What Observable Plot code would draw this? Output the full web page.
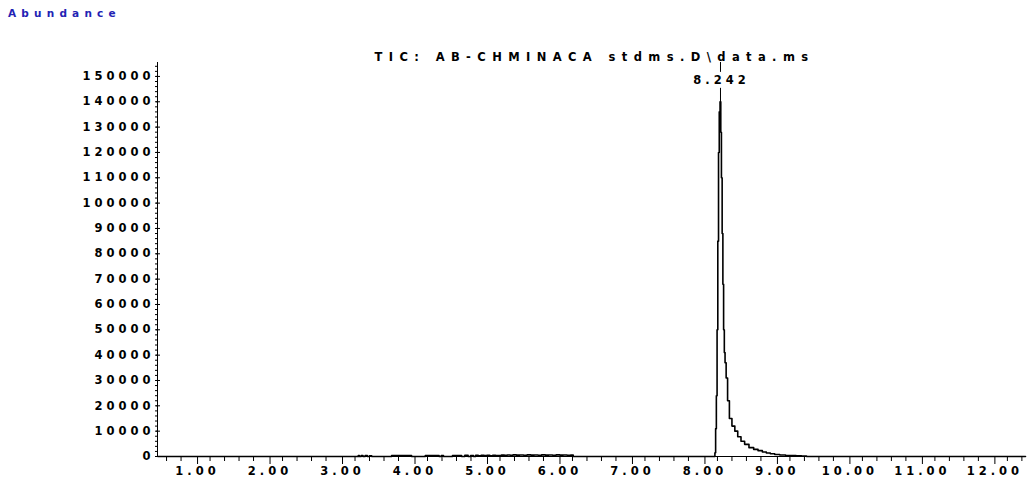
<!DOCTYPE html>
<html>
<head>
<meta charset="utf-8">
<script src="https://cdn.jsdelivr.net/npm/d3@7"></script>
<script src="https://cdn.jsdelivr.net/npm/@observablehq/plot@0.6"></script>
<style>
  body { margin: 0; background: #fff; }
  #wrap { position: relative; width: 1029px; height: 485px; overflow: hidden; }
  #wrap svg { position: absolute; left: 0; top: 0; }
  #ylab { position: absolute; left: 8px; top: 7px; font: bold 10.5px "DejaVu Sans"; letter-spacing: 5.2px; color: #2323b4; z-index: 2; }
</style>
</head>
<body>
<div id="wrap"><div id="ylab"></div></div>
<script>
const chartTitle = "TIC: AB-CHMINACA stdms.D\\data.ms";
const yAxisTitle = "Abundance";
const peakTime = 8.242;
const peakLabel = "8.242";

// retention time (min)
const times = [
  0.48, 3.24, 3.25, 3.27, 3.30, 3.32, 3.36, 3.38, 3.42, 3.44,
  3.97, 3.99, 4.35, 4.37, 4.41, 4.43, 4.66, 4.68, 4.75, 4.77,
  4.82, 4.85, 4.88, 4.92, 4.96, 5.00, 5.04, 5.08, 5.12, 5.16,
  5.20, 5.24, 5.28, 5.32, 5.36, 5.40, 5.45, 5.50, 5.55, 5.60,
  5.65, 5.70, 5.75, 5.80, 5.85, 5.90, 5.95, 6.00, 6.05, 6.10,
  6.15, 6.20, 6.22,
  8.16, 8.17, 8.18, 8.19, 8.20, 8.21, 8.22, 8.23, 8.242, 8.25,
  8.26, 8.27, 8.28, 8.29, 8.30, 8.31, 8.33, 8.35, 8.38, 8.42,
  8.46, 8.50, 8.55, 8.60, 8.67, 8.73, 8.79, 8.85, 8.90, 8.96,
  9.02, 9.10, 9.18, 9.25, 9.32, 9.40, 9.46, 12.45
];
// total ion abundance
const abundance = [
  0, 0, 400, 0, 350, 0, 400, 0, 300, 0,
  350, 0, 400, 0, 350, 0, 400, 0, 450, 0,
  400, 0, 450, 300, 500, 350, 450, 300, 500, 400,
  350, 550, 450, 600, 500, 650, 550, 600, 500, 650,
  550, 600, 500, 650, 550, 600, 500, 650, 550, 600,
  500, 550, 0,
  0, 1500, 11000, 24000, 50000, 85000, 120000, 136000, 140000, 128000,
  110000, 88000, 68000, 50000, 41000, 37000, 31000, 22000, 15000, 12000,
  10000, 7800, 6000, 4800, 3500, 2800, 2300, 1800, 1400, 1100,
  800, 600, 400, 350, 250, 200, 0, 0
];

const xMajorTicks = [1, 2, 3, 4, 5, 6, 7, 8, 9, 10, 11, 12];
const xMinorTicks = [0.6, 0.8, 1.2, 1.4, 1.6, 1.8, 2.2, 2.4, 2.6, 2.8, 3.2, 3.4, 3.6, 3.8,
  4.2, 4.4, 4.6, 4.8, 5.2, 5.4, 5.6, 5.8, 6.2, 6.4, 6.6, 6.8, 7.2, 7.4, 7.6, 7.8,
  8.2, 8.4, 8.6, 8.8, 9.2, 9.4, 9.6, 9.8, 10.2, 10.4, 10.6, 10.8, 11.2, 11.4, 11.6, 11.8,
  12.2, 12.4];
const yMajorTicks = [0, 10000, 20000, 30000, 40000, 50000, 60000, 70000, 80000,
  90000, 100000, 110000, 120000, 130000, 140000, 150000];
const yMinorTicks = d3.range(0, 155001, 2000);

const xDomain = [0.475, 12.45];
const yDomain = [0, 155500];
// peak marker segments (above the apex, broken around the label)
const markerLow = [140000, 145300];
const markerHigh = [151600, 155500];

const data = times.map((t, i) => ({t, a: abundance[i]}));

document.getElementById("ylab").textContent = yAxisTitle;

const chart = Plot.plot({
  width: 1029,
  height: 485,
  marginLeft: 157,
  marginRight: 4,
  marginTop: 62,
  marginBottom: 29,
  style: {fontFamily: "DejaVu Sans", fontSize: "11.5px", fontWeight: "bold", letterSpacing: "4px", color: "#000", background: "transparent", overflow: "visible"},
  x: {domain: xDomain},
  y: {domain: yDomain},
  marks: [
    Plot.axisX({ticks: xMinorTicks, tickSize: 5, tickFormat: () => "", stroke: "#000", label: null}),
    Plot.axisX({ticks: xMajorTicks, tickSize: 8, tickPadding: 2, dx: 2, tickFormat: d => d.toFixed(2), stroke: "#000", fill: "#000", label: null}),
    Plot.axisY({ticks: yMinorTicks, tickSize: 2, tickFormat: () => "", stroke: "#000", label: null}),
    Plot.axisY({ticks: yMajorTicks, tickSize: 4, tickPadding: 2, dx: 3, tickFormat: d => String(d), stroke: "#000", fill: "#000", label: null}),
    Plot.ruleX([xDomain[0]], {stroke: "#000", strokeWidth: 1}),
    Plot.ruleY([0], {stroke: "#000", strokeWidth: 1}),
    Plot.line(data, {x: "t", y: "a", curve: "step", stroke: "#000", strokeWidth: 1.6}),
    Plot.ruleX([peakTime], {y1: markerLow[0], y2: markerLow[1], stroke: "#000", strokeWidth: 1}),
    Plot.ruleX([peakTime], {y1: markerHigh[0], y2: markerHigh[1], stroke: "#000", strokeWidth: 1}),
    Plot.text([peakLabel], {x: peakTime, y: 148400, text: d => d, dx: 1, fill: "#000"}),
    Plot.text([chartTitle], {frameAnchor: "top", dy: -10, text: d => d, fill: "#000"})
  ]
});

d3.select(chart).selectAll("text").filter(function() { return this.textContent === chartTitle; })
  .style("letter-spacing", "6.4px").attr("dx", 3);

document.getElementById("wrap").prepend(chart);
</script>
</body>
</html>
